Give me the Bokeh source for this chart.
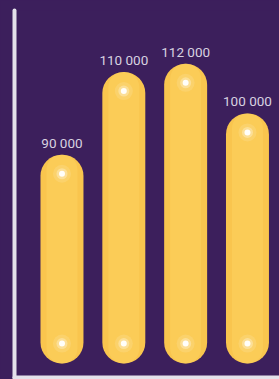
from bokeh.plotting import figure
from bokeh.models import ColumnDataSource, LabelSet, Range1d, FixedTicker
from bokeh.core.properties import value
from bokeh.embed import file_html
from bokeh.resources import INLINE

# ---- data ----
categories = ["A", "B", "C", "D"]
values = [90000, 110000, 112000, 100000]
labels = ["90 000", "110 000", "112 000", "100 000"]

# ---- styling constants ----
BG = "#3c1f5c"
BAR = "#f9c54e"
BAR_LIGHT = "#fed667"
AXIS = "#e4e1ea"
TEXT = "#d8d2e0"
BASE = 39500
Y0, Y1 = 36100, 124900
GLOW_TOP = 4600
GLOW_BOT = 4800

xs = list(range(len(categories)))
src = ColumnDataSource(dict(
    x=xs, top=values, bottom=[BASE] * len(values), label=labels,
    gt=[v - GLOW_TOP for v in values], gb=[BASE + GLOW_BOT] * len(values),
))

p = figure(width=279, height=379, output_backend="svg", toolbar_location=None,
           x_range=Range1d(-0.768, 3.518), y_range=Range1d(Y0, Y1),
           min_border_left=14, min_border_right=0, min_border_top=10, min_border_bottom=2)
p.background_fill_color = BG
p.border_fill_color = BG
p.outline_line_color = None
p.grid.visible = False

for ax in (p.xaxis, p.yaxis):
    ax.ticker = FixedTicker(ticks=[])
    ax.axis_line_color = AXIS
    ax.axis_line_width = 4
    ax.axis_line_cap = "round"
    ax.major_tick_line_color = None
    ax.minor_tick_line_color = None
    ax.major_tick_out = 0
    ax.major_tick_in = 0
    ax.minor_tick_out = 0
    ax.major_label_standoff = 0

p.vbar(x="x", top="top", bottom="bottom", width=0.695, source=src,
       fill_color=BAR, line_color=None, border_radius=21)
p.vbar(x="x", top="top", bottom="bottom", width=0.5, source=src,
       fill_color=BAR_LIGHT, fill_alpha=0.4, line_color=None, border_radius=15)
for col in ("gt", "gb"):
    p.scatter(x="x", y=col, source=src, size=18, fill_color="white", fill_alpha=0.12, line_color=None)
    p.scatter(x="x", y=col, source=src, size=11, fill_color="white", fill_alpha=0.3, line_color=None)
    p.scatter(x="x", y=col, source=src, size=6, fill_color="white", fill_alpha=0.95, line_color=None)

p.add_layout(LabelSet(x="x", y="top", text="label", source=src, y_offset=7,
                      text_align="center", text_baseline="alphabetic",
                      text_font=value("Roboto"), text_font_size="13.5px", text_color=TEXT))

html = file_html(p, INLINE)
html = html.replace("</head>", "<style>html,body{background:%s;overflow:hidden}</style></head>" % BG, 1)
open("out.html", "w").write(html)
